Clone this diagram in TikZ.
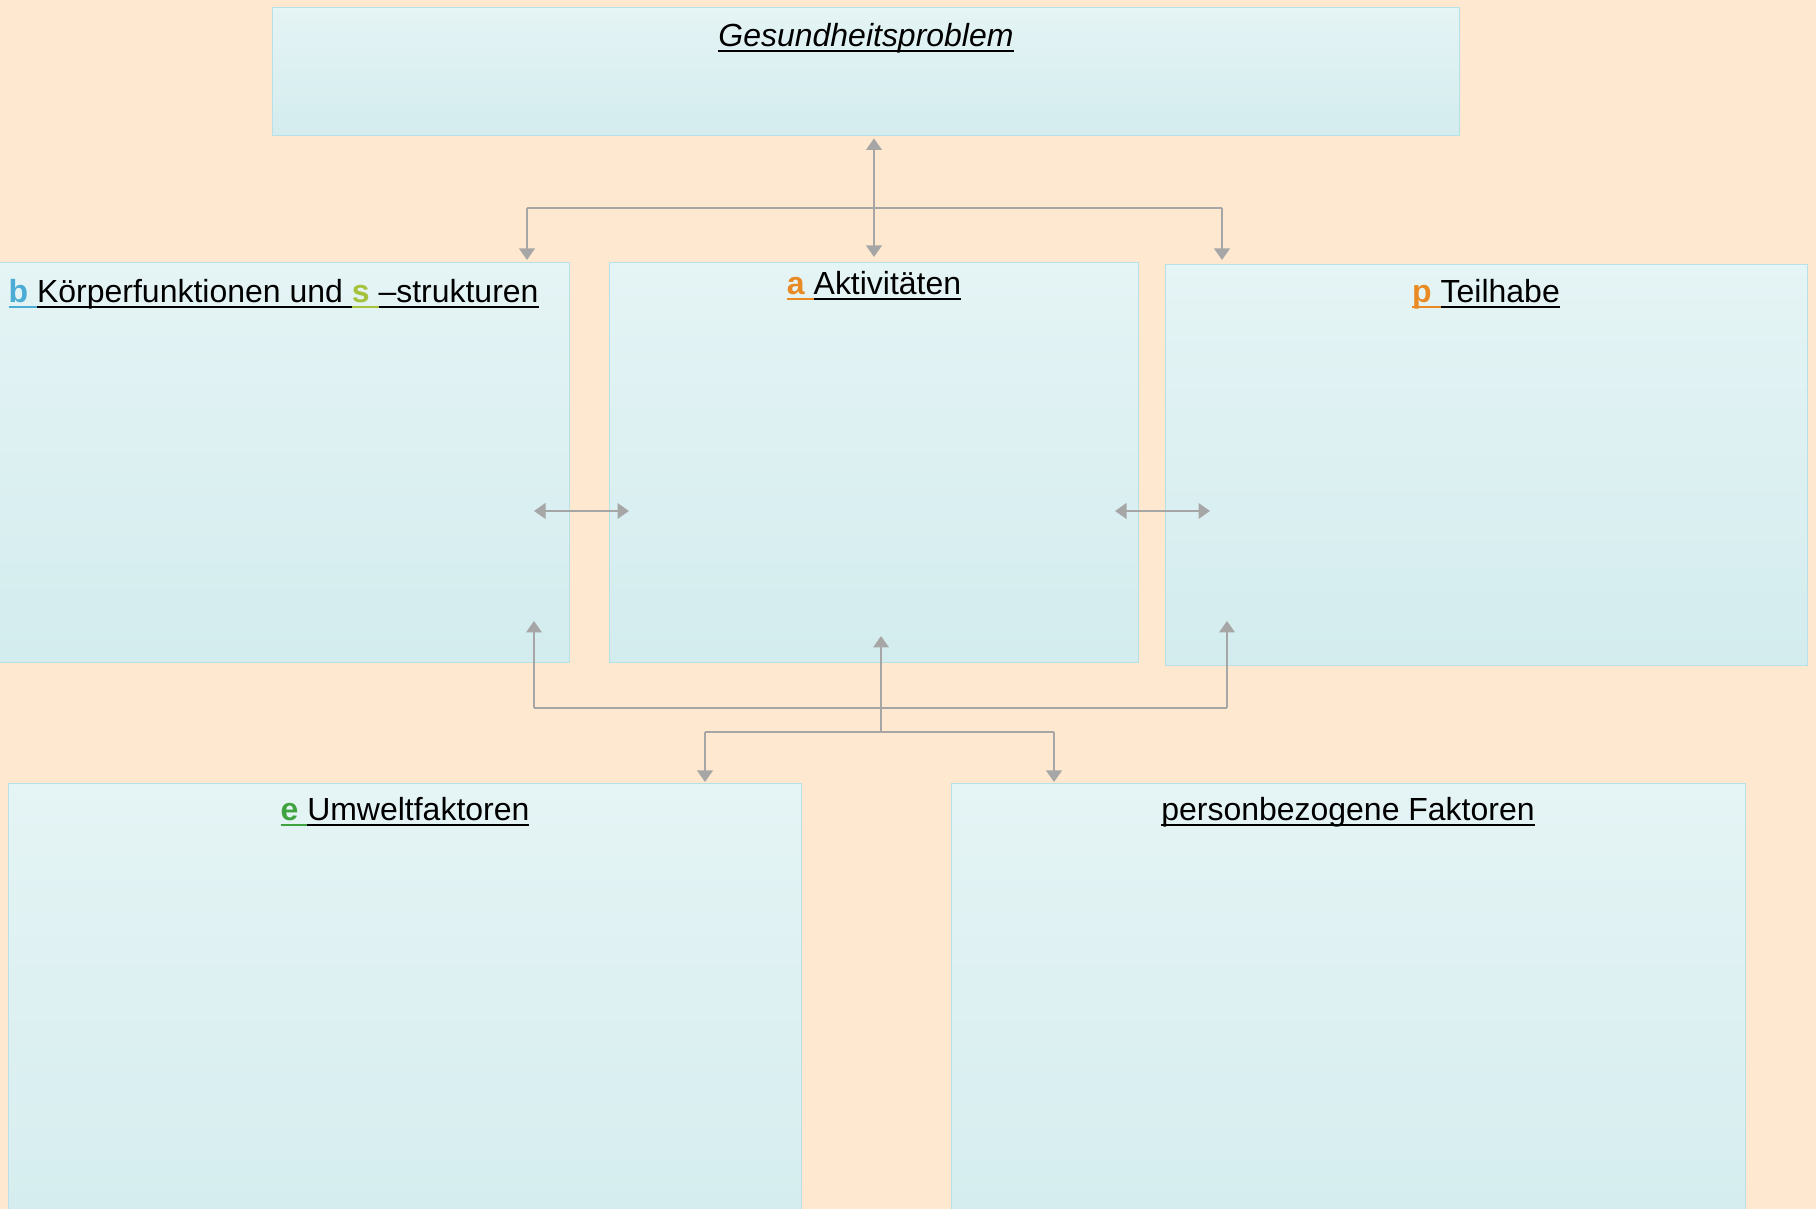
\documentclass[tikz,border=0pt]{standalone}
\usepackage{fontspec}
\setmainfont{Liberation Sans}
\usetikzlibrary{arrows.meta,positioning,calc}
\definecolor{bgpeach}{HTML}{FEE8D0}
\definecolor{boxtop}{HTML}{E5F4F5}
\definecolor{boxbot}{HTML}{D3ECEE}
\definecolor{boxline}{HTML}{B7E1E6}
\definecolor{arrgray}{HTML}{A6A6A6}
\definecolor{lblue}{HTML}{4BACD6}
\definecolor{lgreen}{HTML}{A5C23A}
\definecolor{lorange}{HTML}{E98A24}
\definecolor{dgreen}{HTML}{3FA43F}
% underlined piece of a heading, rule in the colour of the text
\newcommand{\ulseg}[2]{{\color{#1}\setbox0\hbox{#2}\rlap{\rule[-0.17em]{\wd0}{0.075em}}\box0}}
\tikzset{
  every node/.style={font=\fontsize{9.1}{11}\selectfont},
  panel/.style={draw=boxline, line width=0.4pt, top color=boxtop, bottom color=boxbot,
                anchor=north west, inner sep=0pt},
  hdr/.style ={inner sep=0pt, anchor=base},
  ln/.style  ={draw=arrgray, line width=0.6pt},
  ar/.style  ={ln, -{Triangle[length=1.15mm, width=1.55mm]}},
  dar/.style ={ln, {Triangle[length=1.15mm, width=1.55mm]}-{Triangle[length=1.15mm, width=1.55mm]}},
}
\begin{document}
\begin{tikzpicture}[x=0.1mm, y=-0.1mm]
\useasboundingbox (0,0) rectangle (1816,1209);
\fill[bgpeach] (0,0) rectangle (1816,1209);
\clip (0,0) rectangle (1816,1209);

% panels
\node[panel, minimum width=118.7mm, minimum height=12.8mm] (gesund) at (272,7) {};
\node[panel, minimum width=57.9mm, minimum height=40mm] (koerper) at (-10,262) {};
\node[panel, minimum width=52.9mm, minimum height=40mm] (akt) at (609,262) {};
\node[panel, minimum width=64.2mm, minimum height=40.1mm] (teil) at (1165,264) {};
\node[panel, minimum width=79.3mm, minimum height=50mm] (umwelt) at (8,783) {};
\node[panel, minimum width=79.4mm, minimum height=50mm] (person) at (951,783) {};

% headings
\node[hdr] (gesundlbl) at (866,47) {\textit{\ulseg{black}{Gesundheitsproblem}}};
\node[hdr, anchor=base west] (koerperlbl) at (8,303)
  {\ulseg{lblue}{\textbf{b }}\ulseg{black}{Körperfunktionen und }\ulseg{lgreen}{\textbf{s }}\ulseg{black}{–strukturen}};
\node[hdr] (aktlbl) at (874,295) {\ulseg{lorange}{\textbf{a }}\ulseg{black}{Aktivitäten}};
\node[hdr] (teillbl) at (1486,303) {\ulseg{lorange}{\textbf{p }}\ulseg{black}{Teilhabe}};
\node[hdr] (umweltlbl) at (405,821) {\ulseg{dgreen}{\textbf{e }}\ulseg{black}{Umweltfaktoren}};
\node[hdr] (personlbl) at (1348,821) {\ulseg{black}{personbezogene Faktoren}};

% upper branching
\coordinate (tc) at (874,208);
\coordinate (tl) at (527,208);
\coordinate (tr) at (1222,208);
\draw[dar, shorten <=0.2mm, shorten >=0.5mm] (gesund.south -| tc) -- (akt.north -| tc);
\draw[ln] (tl) -- (tr);
\draw[ar, shorten >=0.2mm] (tl) -- (tl |- koerper.north);
\draw[ar, shorten >=0.4mm] (tr) -- (tr |- teil.north);

% side links
\coordinate (ka) at (534,511);
\coordinate (ak) at (629,511);
\coordinate (at) at (1115,511);
\coordinate (ta) at (1210,511);
\draw[dar] (ka) -- (ak);
\draw[dar] (at) -- (ta);

% lower branching
\coordinate (ml) at (534,708);
\coordinate (mc) at (881,708);
\coordinate (mr) at (1227,708);
\coordinate (mb) at (881,732);
\coordinate (bl) at (705,732);
\coordinate (br) at (1054,732);
\draw[ln] (ml) -- (mr);
\draw[ar] (ml) -- ++(0,-87);
\draw[ar] (mr) -- ++(0,-87);
\draw[ar] (mb) -- ++(0,-96);
\draw[ln] (bl) -- (br);
\draw[ar, shorten >=0.1mm] (bl) -- (bl |- umwelt.north);
\draw[ar, shorten >=0.1mm] (br) -- (br |- person.north);
\end{tikzpicture}
\end{document}
